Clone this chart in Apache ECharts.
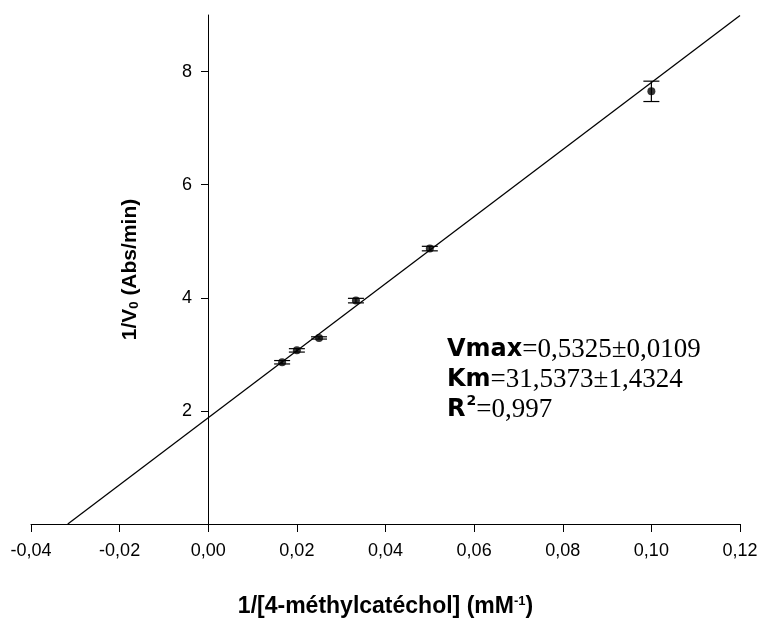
<!DOCTYPE html>
<html>
<head>
<meta charset="utf-8">
<script src="https://cdn.jsdelivr.net/npm/echarts@6/dist/echarts.min.js"></script>
<style>
  html, body { margin: 0; padding: 0; background: #fff; }
  #chart { width: 763px; height: 619px; }
</style>
</head>
<body>
<div id="chart"></div>
<script>
// points
const invS = [0.01667, 0.02, 0.025, 0.03333, 0.05, 0.1]
const invV = [2.86, 3.07, 3.29, 3.95, 4.87, 7.65]
const errV = [0.03, 0.03, 0.02, 0.04, 0.04, 0.18]
// fitted line ends
const fitX = [-0.0317, 0.12]
const fitY = [0, 8.99]
const yTicks = [2, 4, 6, 8]

const chart = echarts.init(document.getElementById('chart'))

const axisFont = {fontFamily: 'Liberation Sans', fontSize: 18, color: '#000'}
const titleRich = (size) => ({
  b: {fontFamily: 'Liberation Sans', fontWeight: 'bold', fontSize: size, color: '#000'},
  sup: {fontFamily: 'Liberation Sans', fontWeight: 'bold', fontSize: 13, color: '#000', verticalAlign: 'top'},
  sub: {fontFamily: 'Liberation Sans', fontWeight: 'bold', fontSize: 13, color: '#000', verticalAlign: 'bottom'}
})

chart.setOption({
  animation: false,
  grid: {left: 31, right: 23, top: 15, bottom: 95, outerBoundsMode: 'none'},
  xAxis: {
    type: 'value',
    min: -0.04, max: 0.12, interval: 0.02,
    splitLine: {show: false},
    axisLine: {onZero: false, lineStyle: {color: '#000', width: 1}},
    axisTick: {length: 8, lineStyle: {color: '#000'}},
    axisLabel: Object.assign({margin: 18, formatter: v => v.toFixed(2).replace('.', ',')}, axisFont),
    name: '{b|1/[4-méthylcatéchol] (mM}{sup|-1}{b|)}',
    nameLocation: 'middle',
    nameGap: 71,
    nameTextStyle: {rich: titleRich(23)}
  },
  yAxis: {
    type: 'value',
    min: 0, max: 9,
    offset: -177,   // puts the axis at x = 0
    splitLine: {show: false},
    axisLine: {onZero: false, lineStyle: {color: '#000', width: 1}},
    axisTick: {length: 7, customValues: yTicks, lineStyle: {color: '#000'}},
    axisLabel: Object.assign({margin: 16, customValues: yTicks}, axisFont),
    name: '{b|1/V}{sub|0}{b| (Abs/min)}',
    nameLocation: 'middle',
    nameRotate: 90,
    nameGap: 67,
    nameTextStyle: {rich: titleRich(21)}
  },
  series: [
    {
      type: 'line',
      data: fitX.map((x, i) => [x, fitY[i]]),
      symbol: 'none',
      lineStyle: {color: '#000', width: 1.3},
      z: 2
    },
    {
      type: 'custom',
      data: invS.map((x, i) => [x, invV[i], errV[i]]),
      renderItem: (params, api) => {
        const x = api.value(0), y = api.value(1), e = api.value(2)
        const top = api.coord([x, y + e])
        const bot = api.coord([x, y - e])
        const w = 8
        const st = {stroke: '#000', lineWidth: 1.2}
        return {
          type: 'group',
          children: [
            {type: 'line', shape: {x1: top[0], y1: top[1], x2: bot[0], y2: bot[1]}, style: st},
            {type: 'line', shape: {x1: top[0] - w, y1: top[1], x2: top[0] + w, y2: top[1]}, style: st},
            {type: 'line', shape: {x1: bot[0] - w, y1: bot[1], x2: bot[0] + w, y2: bot[1]}, style: st}
          ]
        }
      },
      z: 3
    },
    {
      type: 'scatter',
      data: invS.map((x, i) => [x, invV[i]]),
      symbol: 'circle',
      symbolSize: 8,
      itemStyle: {color: '#000'},
      z: 4
    }
  ],
  graphic: [{
    type: 'text',
    left: 447,
    top: 336,
    style: {
      text: '{k|Vmax}{v|=0,5325±0,0109}\n{k|Km}{v|=31,5373±1,4324}\n{k|R}{sup|2}{v|=0,997}',
      rich: {
        k: {fontFamily: 'DejaVu Sans', fontWeight: 'bold', fontSize: 24, color: '#000', lineHeight: 30},
        v: {fontFamily: 'Liberation Serif', fontSize: 27, color: '#000', lineHeight: 30},
        sup: {fontFamily: 'DejaVu Sans', fontWeight: 'bold', fontSize: 14, color: '#000', lineHeight: 30, verticalAlign: 'top', padding: [0, 0, 0, 1]}
      }
    }
  }]
})
</script>
</body>
</html>
